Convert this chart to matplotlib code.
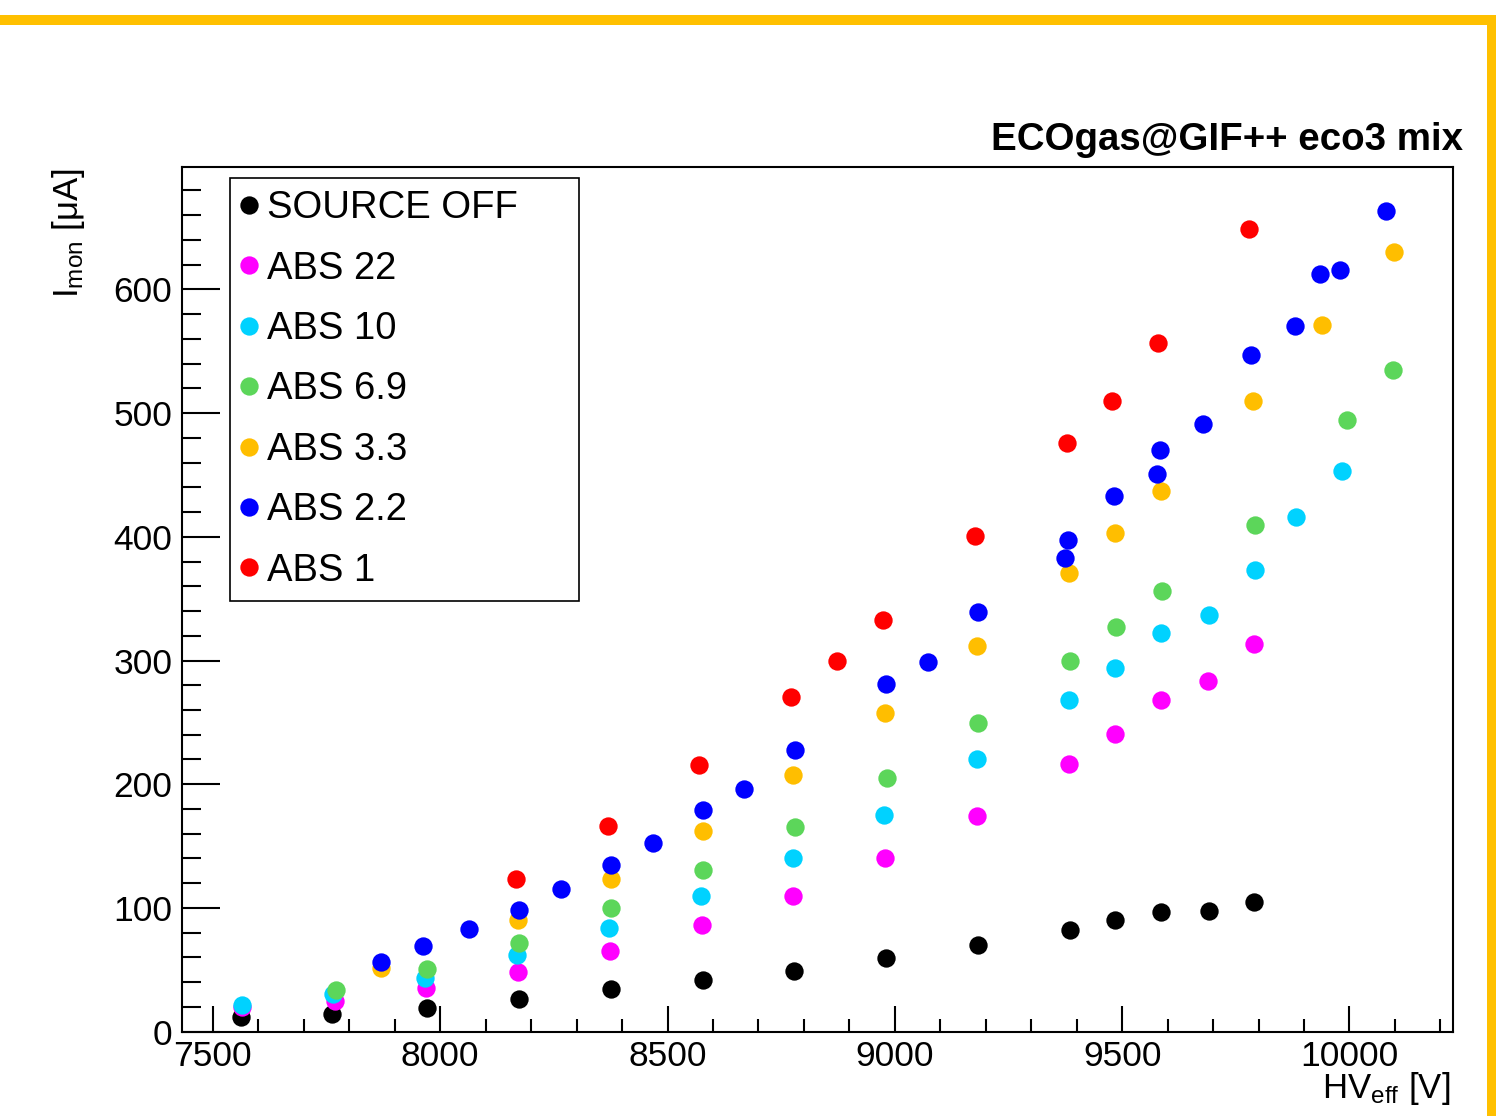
import matplotlib
matplotlib.use("Agg")
import matplotlib.pyplot as plt
from matplotlib.ticker import MultipleLocator, FixedLocator, FixedFormatter
from matplotlib.patches import Rectangle

plt.rcParams['font.family'] = ['Liberation Sans', 'DejaVu Sans']
plt.rcParams['mathtext.fontset'] = 'custom'
plt.rcParams['mathtext.rm'] = 'Liberation Sans'
plt.rcParams['mathtext.it'] = 'Liberation Sans:italic'
plt.rcParams['mathtext.bf'] = 'Liberation Sans:bold'

# ---------------- data ----------------
series_labels = ["SOURCE OFF", "ABS 22", "ABS 10", "ABS 6.9", "ABS 3.3", "ABS 2.2", "ABS 1"]
series_colors = ["#000000", "#FF00FF", "#00D2FF", "#5CD65A", "#FFBE00", "#0000FF", "#FF0000"]

source_off_hv = [7561, 7762, 7971, 8173, 8375, 8578, 8779, 8980, 9183, 9385, 9485, 9586, 9690, 9790]
source_off_i = [12.1, 14.1, 18.9, 26.4, 34.5, 41.8, 48.8, 59.3, 69.9, 82.0, 90.0, 97.0, 97.6, 104.6]

abs22_hv = [7564, 7768, 7969, 8171, 8373, 8575, 8777, 8979, 9181, 9383, 9484, 9585, 9689, 9790]
abs22_i = [19.7, 24.8, 35.1, 48.5, 65.2, 86.0, 109.4, 140.1, 174.3, 216.6, 240.6, 267.8, 283.7, 313.6]

abs10_hv = [7563, 7765, 7967, 8169, 8372, 8573, 8775, 8976, 9181, 9383, 9484, 9585, 9690, 9792, 9883, 9984]
abs10_i = [21.6, 30.5, 43.2, 62.0, 84.2, 109.9, 140.6, 175.4, 220.2, 267.8, 294.2, 322.5, 336.9, 372.9, 415.7, 453.2]

abs6p9_hv = [7770, 7971, 8173, 8375, 8578, 8780, 8982, 9183, 9385, 9487, 9588, 9792, 9995, 10096]
abs6p9_i = [33.7, 50.4, 71.4, 99.7, 130.7, 165.4, 205.0, 249.5, 299.6, 327.2, 356.4, 409.8, 494.1, 534.8]

abs3p3_hv = [7870, 8171, 8375, 8578, 8777, 8979, 9181, 9383, 9484, 9586, 9788, 9939, 10098]
abs3p3_i = [51.2, 90.3, 123.4, 162.5, 207.7, 257.6, 311.9, 371.1, 403.0, 437.2, 510.0, 571.4, 629.9]

abs2p2_hv = [7870, 7962, 8064, 8173, 8265, 8375, 8467, 8578, 8668, 8780, 8980, 9072, 9183,
             9375, 9381, 9482, 9577, 9583, 9678, 9784, 9880, 9935, 9980, 10081]
abs2p2_i = [56.6, 69.3, 82.8, 98.4, 115.1, 134.6, 152.8, 178.9, 196.2, 227.4, 281.3, 299.0, 339.4,
            383.1, 397.6, 433.0, 450.6, 470.0, 491.0, 547.2, 570.6, 612.4, 615.6, 663.5]

abs1_hv = [8166, 8368, 8570, 8772, 8872, 8974, 9176, 9378, 9478, 9579, 9780]
abs1_i = [123.4, 166.4, 215.3, 270.7, 299.8, 332.5, 400.6, 475.5, 510.0, 556.4, 648.5]

x_ticks = [7500, 8000, 8500, 9000, 9500, 10000]
x_tick_labels = ["7500", "8000", "8500", "9000", "9500", "10000"]
y_ticks = [0, 100, 200, 300, 400, 500, 600]
y_tick_labels = ["0", "100", "200", "300", "400", "500", "600"]

title_text = "ECOgas@GIF++ eco3 mix"
x_label = r"HV$_{\rm eff}$ [V]"
y_label = r"I$_{\rm mon}$ [μA]"

all_hv = [source_off_hv, abs22_hv, abs10_hv, abs6p9_hv, abs3p3_hv, abs2p2_hv, abs1_hv]
all_i = [source_off_i, abs22_i, abs10_i, abs6p9_i, abs3p3_i, abs2p2_i, abs1_i]

# ---------------- figure ----------------
W, H = 1496, 1116
fig = plt.figure(figsize=(W / 100, H / 100), dpi=100)

def fx(px):
    return px / W

def fy(py):
    return 1 - py / H

ax = fig.add_axes([fx(182), fy(1031.7), fx(1452.7) - fx(182), fy(167.3) - fy(1031.7)])
ax.set_xlim(7432, 10227)
ax.set_ylim(0, 698.6)

for k, (hv, cur) in enumerate(zip(all_hv, all_i)):
    ax.plot(hv, cur, linestyle='none', marker='o', markersize=13.2,
            markerfacecolor=series_colors[k], markeredgecolor=series_colors[k],
            markeredgewidth=0, color=series_colors[k], label=series_labels[k],
            zorder=3 + k, clip_on=False)

for s in ax.spines.values():
    s.set_linewidth(1.5)

ax.xaxis.set_major_locator(FixedLocator(x_ticks))
ax.xaxis.set_major_formatter(FixedFormatter(x_tick_labels))
ax.xaxis.set_minor_locator(MultipleLocator(100))
ax.yaxis.set_major_locator(FixedLocator(y_ticks))
ax.yaxis.set_major_formatter(FixedFormatter(y_tick_labels))
ax.yaxis.set_minor_locator(MultipleLocator(20))

ax.tick_params(axis='x', which='major', direction='in', length=18.7, width=1.5,
               labelsize=25.5, pad=6, top=False)
ax.tick_params(axis='x', which='minor', direction='in', length=9.4, width=1.5, top=False)
ax.tick_params(axis='y', which='major', direction='in', length=27.4, width=1.5,
               labelsize=25.5, pad=7, right=False)
ax.tick_params(axis='y', which='minor', direction='in', length=13.7, width=1.5, right=False)

leg = ax.legend(loc='upper left',
                bbox_to_anchor=(fx(230), fy(600), fx(579) - fx(230), fy(178.3) - fy(600)),
                bbox_transform=fig.transFigure, mode='expand',
                fontsize=27.5, numpoints=1, fancybox=False, framealpha=1,
                edgecolor='black', borderpad=0.31, handlelength=0.35,
                handletextpad=0.30, labelspacing=0.64, borderaxespad=0)
leg.get_frame().set_linewidth(1.2)
leg.set_zorder(2)

# title, axis labels
fig.text(fx(1463), fy(150), title_text, ha='right', va='baseline',
         fontsize=27.7, fontweight='bold')
fig.text(fx(1450), fy(1098), x_label, ha='right', va='baseline', fontsize=25)
fig.text(fx(78), fy(168), y_label, ha='right', va='baseline', fontsize=25,
         rotation=90, rotation_mode='anchor')

# orange frame (top and right)
frame_col = '#FFC000'
fig.patches.append(Rectangle((0, fy(25)), 1, fy(15) - fy(25), transform=fig.transFigure,
                             facecolor=frame_col, edgecolor='none', zorder=10))
fig.patches.append(Rectangle((fx(1487), 0), 1 - fx(1487), fy(15), transform=fig.transFigure,
                             facecolor=frame_col, edgecolor='none', zorder=10))

fig.savefig('out.png', dpi=100)
